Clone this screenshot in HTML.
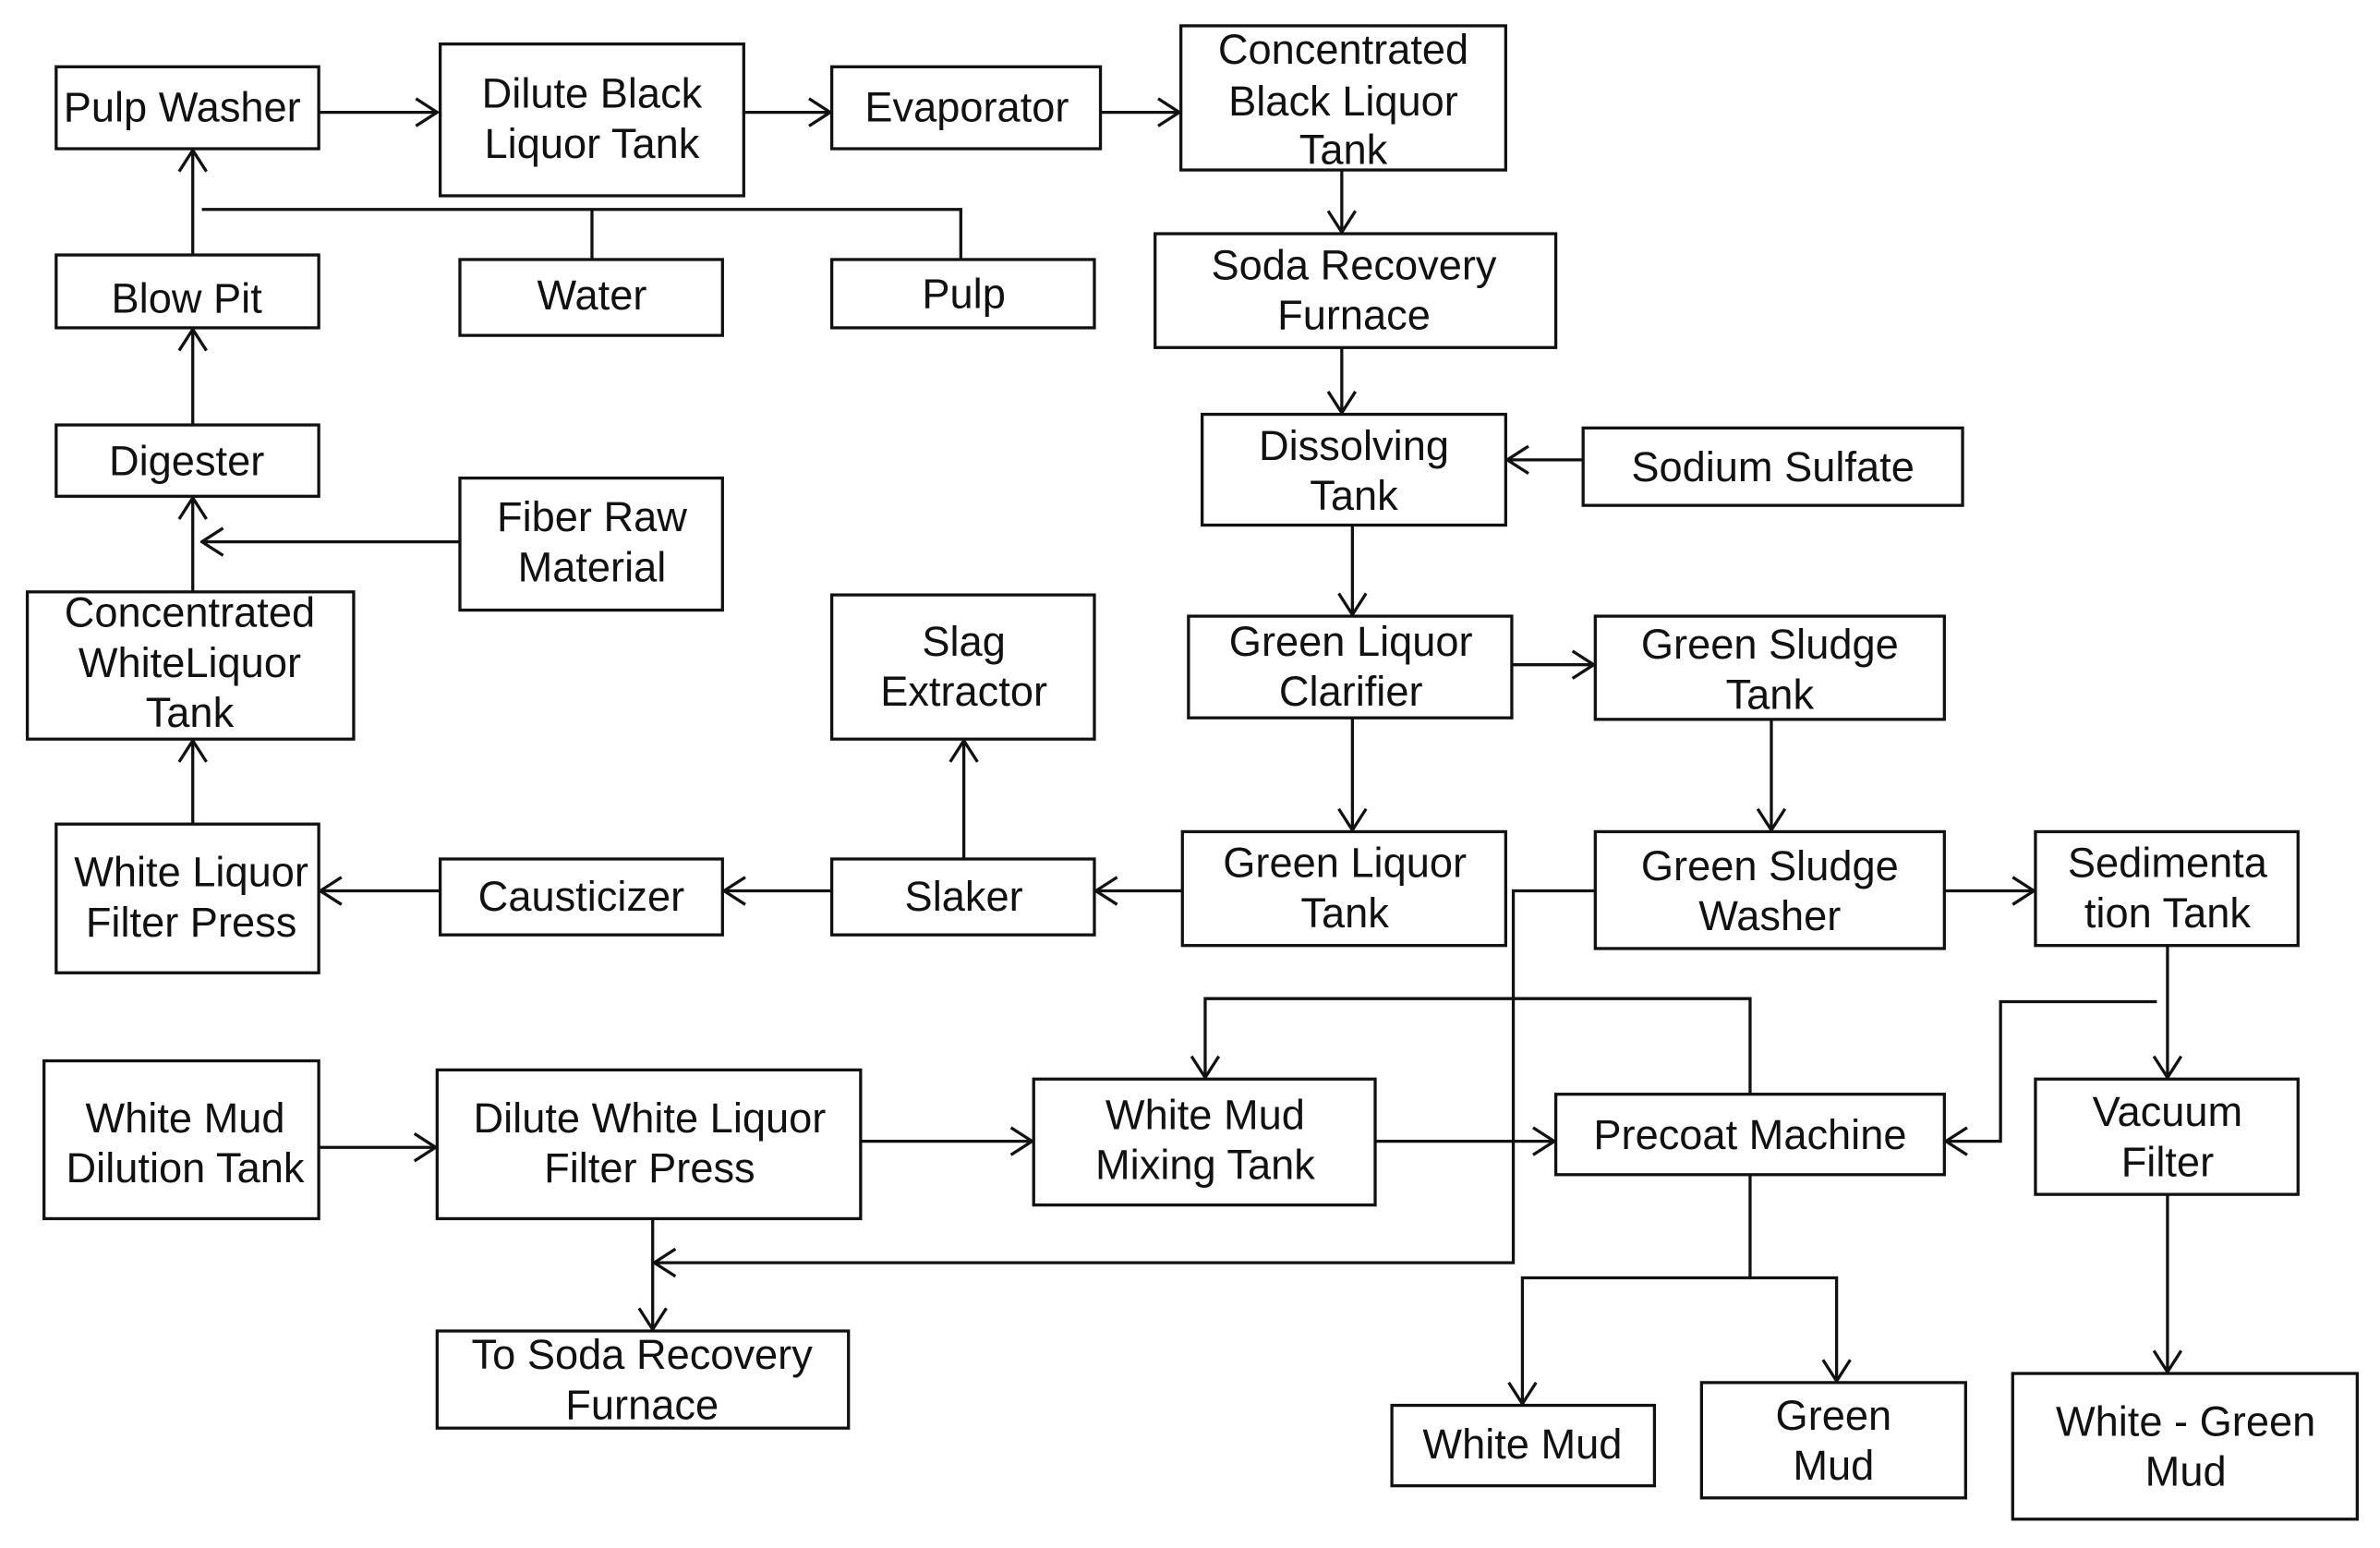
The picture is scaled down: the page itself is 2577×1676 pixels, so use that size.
<!DOCTYPE html>
<html><head><meta charset="utf-8"><style>
html,body{margin:0;padding:0;background:#fff;}
svg{display:block;}
text{font-family:"Liberation Sans",Arial,sans-serif;font-size:27.5px;fill:#111;text-anchor:middle;}
rect{fill:#fff;stroke:#111;stroke-width:2;}
line,polyline.l{stroke:#111;stroke-width:2;fill:none;}
</style></head><body>
<svg width="2577" height="1676" viewBox="0 0 1568 1020" preserveAspectRatio="none" xmlns="http://www.w3.org/2000/svg">
<defs>
<marker id="a" viewBox="0 0 16 20" refX="15" refY="10" markerWidth="16" markerHeight="20" markerUnits="userSpaceOnUse" orient="auto">
<polyline points="1,1 15,10 1,19" fill="none" stroke="#111" stroke-width="2"/>
</marker>
</defs>
<g>
<line x1="210" y1="74" x2="288" y2="74" marker-end="url(#a)"/>
<line x1="490" y1="74" x2="547" y2="74" marker-end="url(#a)"/>
<line x1="725" y1="74" x2="777" y2="74" marker-end="url(#a)"/>
<line x1="884" y1="112" x2="884" y2="153" marker-end="url(#a)"/>
<line x1="884" y1="229" x2="884" y2="272" marker-end="url(#a)"/>
<line x1="1043" y1="303" x2="993" y2="303" marker-end="url(#a)"/>
<line x1="891" y1="346" x2="891" y2="405" marker-end="url(#a)"/>
<line x1="996" y1="438" x2="1050" y2="438" marker-end="url(#a)"/>
<line x1="891" y1="473" x2="891" y2="547" marker-end="url(#a)"/>
<line x1="1167" y1="474" x2="1167" y2="547" marker-end="url(#a)"/>
<line x1="1281" y1="587" x2="1340" y2="587" marker-end="url(#a)"/>
<line x1="779" y1="587" x2="722" y2="587" marker-end="url(#a)"/>
<line x1="635" y1="566" x2="635" y2="488" marker-end="url(#a)"/>
<line x1="548" y1="587" x2="477" y2="587" marker-end="url(#a)"/>
<line x1="290" y1="587" x2="211" y2="587" marker-end="url(#a)"/>
<line x1="127" y1="543" x2="127" y2="488" marker-end="url(#a)"/>
<line x1="127" y1="390" x2="127" y2="328" marker-end="url(#a)"/>
<line x1="303" y1="357" x2="133" y2="357" marker-end="url(#a)"/>
<line x1="127" y1="280" x2="127" y2="217" marker-end="url(#a)"/>
<line x1="127" y1="168" x2="127" y2="99" marker-end="url(#a)"/>
<polyline class="l" points="133,138 633,138 633,171"/>
<line x1="390" y1="138" x2="390" y2="171"/>
<line x1="210" y1="756" x2="287" y2="756" marker-end="url(#a)"/>
<line x1="567" y1="752" x2="680" y2="752" marker-end="url(#a)"/>
<line x1="906" y1="752" x2="1024" y2="752" marker-end="url(#a)"/>
<polyline class="l" points="1153,721 1153,658 794,658 794,710" marker-end="url(#a)"/>
<line x1="1428" y1="623" x2="1428" y2="710" marker-end="url(#a)"/>
<polyline class="l" points="1421,660 1318,660 1318,752 1282,752" marker-end="url(#a)"/>
<line x1="1428" y1="787" x2="1428" y2="904" marker-end="url(#a)"/>
<polyline class="l" points="1153,774 1153,842 1003,842 1003,925" marker-end="url(#a)"/>
<polyline class="l" points="1153,842 1210,842 1210,910" marker-end="url(#a)"/>
<polyline class="l" points="1051,587 997,587 997,832 431,832" marker-end="url(#a)"/>
<line x1="430" y1="803" x2="430" y2="876" marker-end="url(#a)"/>
</g>
<rect x="37" y="44" width="173" height="54"/><text x="120" y="80">Pulp Washer</text>
<rect x="290" y="29" width="200" height="100"/><text x="390" y="71">Dilute Black</text><text x="390" y="104">Liquor Tank</text>
<rect x="548" y="44" width="177" height="54"/><text x="637" y="80">Evaporator</text>
<rect x="778" y="17" width="214" height="95"/><text x="885" y="42">Concentrated</text><text x="885" y="76">Black Liquor</text><text x="885" y="108">Tank</text>
<rect x="37" y="168" width="173" height="48"/><text x="123" y="206">Blow Pit</text>
<rect x="303" y="171" width="173" height="50"/><text x="390" y="204">Water</text>
<rect x="548" y="171" width="173" height="45"/><text x="635" y="203">Pulp</text>
<rect x="761" y="154" width="264" height="75"/><text x="892" y="184">Soda Recovery</text><text x="892" y="217">Furnace</text>
<rect x="37" y="280" width="173" height="47"/><text x="123" y="313">Digester</text>
<rect x="303" y="315" width="173" height="87"/><text x="390" y="350">Fiber Raw</text><text x="390" y="383">Material</text>
<rect x="792" y="273" width="200" height="73"/><text x="892" y="303">Dissolving</text><text x="892" y="336">Tank</text>
<rect x="1043" y="282" width="250" height="51"/><text x="1168" y="317">Sodium Sulfate</text>
<rect x="18" y="390" width="215" height="97"/><text x="125" y="413">Concentrated</text><text x="125" y="446">WhiteLiquor</text><text x="125" y="479">Tank</text>
<rect x="548" y="392" width="173" height="95"/><text x="635" y="432">Slag</text><text x="635" y="465">Extractor</text>
<rect x="783" y="406" width="213" height="67"/><text x="890" y="432">Green Liquor</text><text x="890" y="465">Clarifier</text>
<rect x="1051" y="406" width="230" height="68"/><text x="1166" y="434">Green Sludge</text><text x="1166" y="467">Tank</text>
<rect x="37" y="543" width="173" height="98"/><text x="126" y="584">White Liquor</text><text x="126" y="617">Filter Press</text>
<rect x="290" y="566" width="186" height="50"/><text x="383" y="600">Causticizer</text>
<rect x="548" y="566" width="173" height="50"/><text x="635" y="600">Slaker</text>
<rect x="779" y="548" width="213" height="75"/><text x="886" y="578">Green Liquor</text><text x="886" y="611">Tank</text>
<rect x="1051" y="548" width="230" height="77"/><text x="1166" y="580">Green Sludge</text><text x="1166" y="613">Washer</text>
<rect x="1341" y="548" width="173" height="75"/><text x="1428" y="578">Sedimenta</text><text x="1428" y="611">tion Tank</text>
<rect x="29" y="699" width="181" height="104"/><text x="122" y="746">White Mud</text><text x="122" y="779">Dilution Tank</text>
<rect x="288" y="705" width="279" height="98"/><text x="428" y="746">Dilute White Liquor</text><text x="428" y="779">Filter Press</text>
<rect x="681" y="711" width="225" height="83"/><text x="794" y="744">White Mud</text><text x="794" y="777">Mixing Tank</text>
<rect x="1025" y="721" width="256" height="53"/><text x="1153" y="757">Precoat Machine</text>
<rect x="1341" y="711" width="173" height="76"/><text x="1428" y="742">Vacuum</text><text x="1428" y="775">Filter</text>
<rect x="288" y="877" width="271" height="64"/><text x="423" y="902">To Soda Recovery</text><text x="423" y="935">Furnace</text>
<rect x="917" y="926" width="173" height="53"/><text x="1003" y="961">White Mud</text>
<rect x="1121" y="911" width="174" height="76"/><text x="1208" y="942">Green</text><text x="1208" y="975">Mud</text>
<rect x="1326" y="905" width="227" height="96"/><text x="1440" y="946">White - Green</text><text x="1440" y="979">Mud</text>
</svg>
</body></html>
